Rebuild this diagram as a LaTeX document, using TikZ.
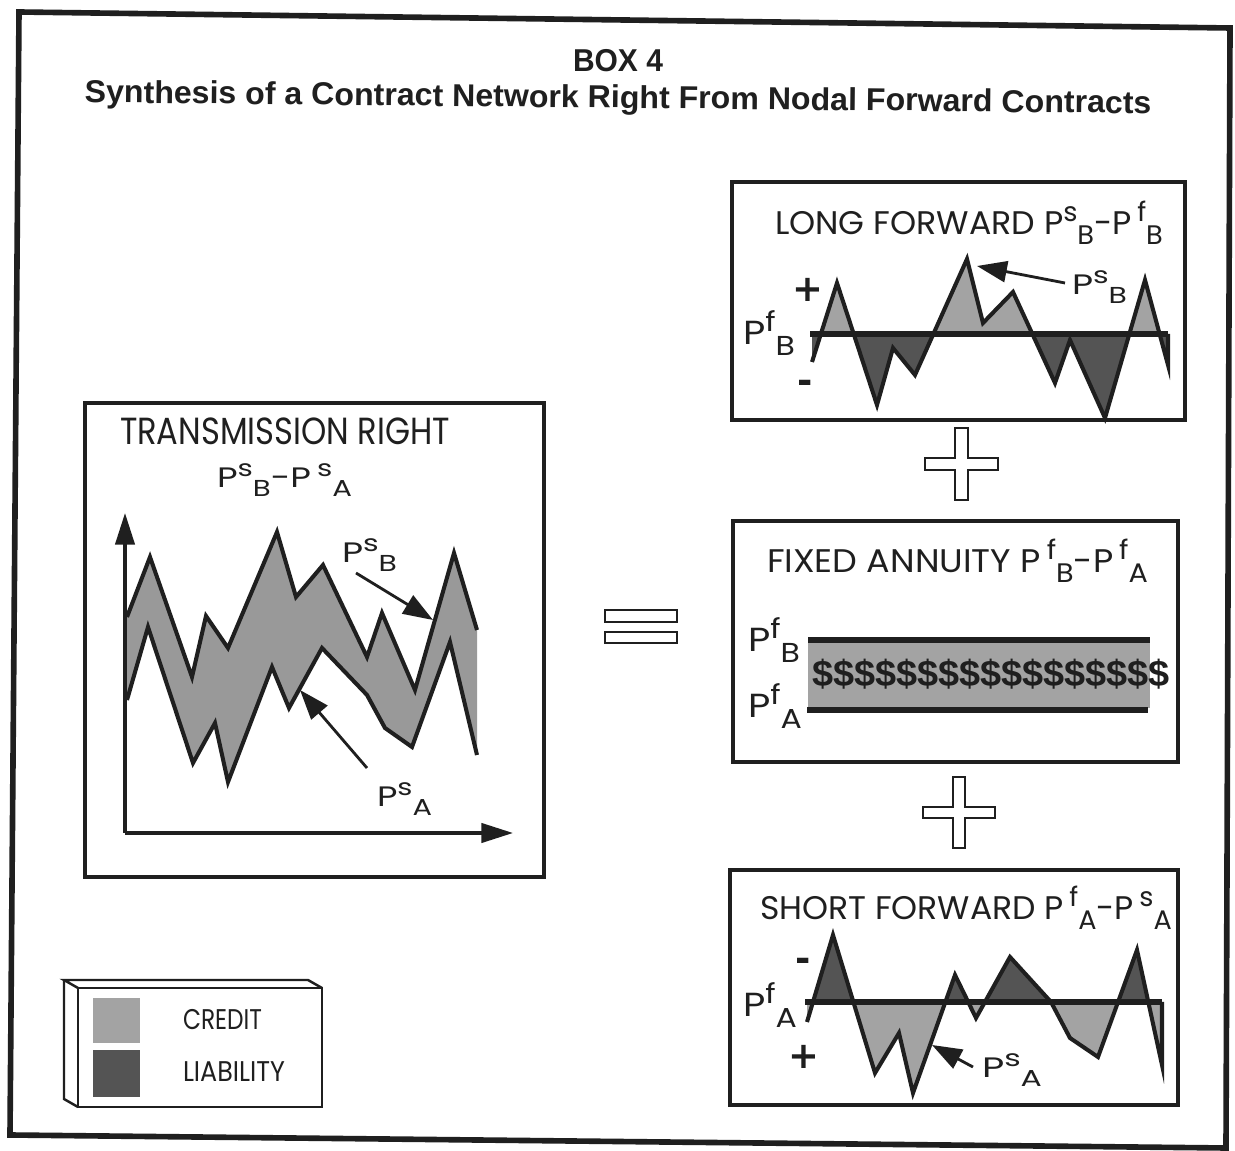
\documentclass[tikz,border=0pt]{standalone}
\usepackage{fontspec}
\usepackage{graphicx}
\usetikzlibrary{arrows.meta}
\setmainfont{Poppins}
\newfontfamily\headfont{Liberation Sans}
\newfontfamily\signfont{DejaVu Sans}

\definecolor{ink}{gray}{0.12}
\definecolor{creditfill}{gray}{0.64}
\definecolor{bandfill}{gray}{0.60}
\definecolor{liabfill}{gray}{0.33}

% set a line of text to a given width (horizontal scaling only)
\newlength\fitlen
\newcommand\fitw[2]{\settowidth\fitlen{#2}%
  \edef\fitscale{\fpeval{round((#1)/(\the\fitlen),4)}}%
  \scalebox{\fitscale}[1]{#2}}
% raised and lowered indices written one after the other
\newcommand\hi[1]{\raisebox{0.4em}{\scalebox{0.82}{#1}}}
\newcommand\lo[1]{\raisebox{-0.3em}{\scalebox{0.82}{#1}}}

\tikzset{
  frameline/.style={draw=ink, line width=3.2pt, line join=miter},
  panelbox/.style={draw=ink, line width=1.8pt},
  curveline/.style={draw=ink, line width=2.3pt, line join=miter, miter limit=12},
  zeroline/.style={draw=ink, line width=3pt},
  axisline/.style={draw=ink, line width=1.8pt, -{Triangle[length=18pt,width=11pt]}},
  pointer/.style={draw=ink, line width=1.6pt, -{Triangle[length=17pt,width=12pt]}},
  outline/.style={draw=ink, line width=1.4pt, line join=miter},
  txt/.style={inner sep=0pt, outer sep=0pt, anchor=base west, text=ink},
  headtext/.style={txt, anchor=base, font=\headfont\bfseries\fontsize{18}{20}\selectfont},
  bigtitle/.style={txt, font=\fontsize{21.5}{24}\selectfont},
  paneltitle/.style={txt, font=\fontsize{18.6}{21}\selectfont},
  smalllabel/.style={txt, font=\fontsize{16}{18}\selectfont},
  flabel/.style={txt, font=\fontsize{19}{21}\selectfont},
  legtext/.style={txt, font=\fontsize{16.2}{18}\selectfont},
  signtext/.style={inner sep=0pt, outer sep=0pt, text=ink, font=\signfont\bfseries\fontsize{21}{21}\selectfont},
  cashtext/.style={txt, font=\headfont\bfseries\fontsize{21}{22}\selectfont},
}

\begin{document}
\begin{tikzpicture}[x=0.02cm, y=-0.02cm]
\useasboundingbox (0,0) rectangle (1235,1151);
\fill[white] (0,0) rectangle (1235,1151);

% outer frame
\draw[frameline] (19,12) -- (1230,28) -- (1226,1148) -- (10,1135) -- cycle;

% heading
\node[headtext] (boxno) at (618,72) {\fitw{1.8cm}{BOX 4}};
\node[headtext, rotate=-0.6] (heading) at (618,108)
  {\fitw{21.34cm}{Synthesis of a Contract Network Right From Nodal Forward Contracts}};

% ---------- transmission right ----------
\draw[panelbox] (85,403) rectangle (544,877);
\node[bigtitle] (trTitle) at (120,445) {\fitw{6.6cm}{TRANSMISSION RIGHT}};
\node[smalllabel] (trFormula) at (217,488) {\fitw{2.7cm}{P\hi{s}\lo{B}-P\,\hi{s}\lo{A}}};

\fill[bandfill] (127,617) -- (150,557) -- (192,677) -- (206,616) -- (228,648) -- (277,532)
  -- (296,597) -- (323,565) -- (367,657) -- (382,613) -- (415,690) -- (454,553) -- (477,630)
  -- (477,755) -- (450,642) -- (412,747) -- (385,728) -- (367,695) -- (322,648) -- (289,708)
  -- (272,667) -- (228,782) -- (215,723) -- (193,763) -- (148,627) -- (127,700) -- cycle;
\draw[curveline] (127,617) -- (150,557) -- (192,677) -- (206,616) -- (228,648) -- (277,532)
  -- (296,597) -- (323,565) -- (367,657) -- (382,613) -- (415,690) -- (454,553) -- (477,630);
\draw[curveline] (127,700) -- (148,627) -- (193,763) -- (215,723) -- (228,782) -- (272,667)
  -- (289,708) -- (322,648) -- (367,695) -- (385,728) -- (412,747) -- (450,642) -- (477,755);

\coordinate (origin) at (125,833);
\coordinate (ytip) at (125,513);
\coordinate (xtip) at (513,833);
\draw[axisline] (origin) -- (ytip);
\draw[axisline] (origin) -- (xtip);

\node[smalllabel] (trPsB) at (342,563) {\fitw{1.1cm}{P\hi{s}\lo{B}}};
\coordinate (trArrB0) at (356,573);
\coordinate (trArrB1) at (433,620);
\draw[pointer] (trArrB0) -- (trArrB1);
\node[smalllabel] (trPsA) at (377,807) {\fitw{1.1cm}{P\hi{s}\lo{A}}};
\coordinate (trArrA0) at (367,768);
\coordinate (trArrA1) at (300,690);
\draw[pointer] (trArrA0) -- (trArrA1);

% equals sign
\draw[outline] (605,610) rectangle (677,622);
\draw[outline] (605,632) rectangle (677,643);

% ---------- long forward ----------
\draw[panelbox] (732,182) rectangle (1185,420);
\node[paneltitle] (lfTitle) at (775,235) {\fitw{7.76cm}{LONG FORWARD P\hi{s}\lo{B}-P\,\hi{f}\lo{B}}};
\def\lfcurve{(812,362) -- (837,283) -- (877,405) -- (893,348) -- (915,375) -- (967,259)
  -- (983,323) -- (1013,292) -- (1055,383) -- (1070,340) -- (1105,418) -- (1145,280) -- (1168,365)}
\begin{scope}
  \clip (732,182) rectangle (1185,334);
  \fill[creditfill] \lfcurve -- (1168,334) -- (812,334) -- cycle;
\end{scope}
\begin{scope}
  \clip (732,334) rectangle (1185,420);
  \fill[liabfill] \lfcurve -- (1168,334) -- (812,334) -- cycle;
\end{scope}
\draw[curveline] \lfcurve -- (1168,334);
\draw[zeroline] (810,334) -- (1168,334);
\node[flabel] (lfPf) at (743,345) {\fitw{1.04cm}{P\hi{f}\lo{B}}};
\node[signtext] (lfPlus) at (808,290) {+};
\node[signtext] (lfMinus) at (805,387) {-};
\node[smalllabel] (lfPs) at (1072,295) {\fitw{1.1cm}{P\hi{s}\lo{B}}};
\coordinate (lfArr0) at (1065,283);
\coordinate (lfArr1) at (977,266);
\draw[pointer] (lfArr0) -- (lfArr1);

% plus sign
\draw[outline] (955,428) -- (968,428) -- (968,458) -- (998,458) -- (998,470) -- (968,470)
  -- (968,500) -- (955,500) -- (955,470) -- (925,470) -- (925,458) -- (955,458) -- cycle;

% ---------- fixed annuity ----------
\draw[panelbox] (733,521) rectangle (1178,762);
\node[paneltitle] (faTitle) at (767,573) {\fitw{7.62cm}{FIXED ANNUITY P\,\hi{f}\lo{B}-P\,\hi{f}\lo{A}}};
\fill[creditfill] (808,643) rectangle (1150,708);
\draw[zeroline] (808,640) -- (1150,640);
\draw[zeroline] (807,710) -- (1148,710);
\node[cashtext] (faCash) at (812,687) {\fitw{7.16cm}{\$\$\$\$\$\$\$\$\$\$\$\$\$\$\$\$\$}};
\node[flabel] (faPfB) at (748,652) {\fitw{1.04cm}{P\hi{f}\lo{B}}};
\node[flabel] (faPfA) at (748,718) {\fitw{1.08cm}{P\hi{f}\lo{A}}};

% plus sign
\draw[outline] (953,777) -- (965,777) -- (965,807) -- (995,807) -- (995,818) -- (965,818)
  -- (965,848) -- (953,848) -- (953,818) -- (923,818) -- (923,807) -- (953,807) -- cycle;

% ---------- short forward ----------
\draw[panelbox] (730,870) rectangle (1178,1105);
\node[paneltitle] (sfTitle) at (760,920) {\fitw{8.24cm}{SHORT FORWARD P\,\hi{f}\lo{A}-P\,\hi{s}\lo{A}}};
\def\sfcurve{(807,1022) -- (833,935) -- (875,1073) -- (899,1033) -- (913,1093) -- (955,975)
  -- (976,1018) -- (1010,957) -- (1051,1002) -- (1070,1038) -- (1098,1057) -- (1137,950) -- (1162,1065)}
\begin{scope}
  \clip (730,870) rectangle (1178,1002);
  \fill[liabfill] \sfcurve -- (1162,1002) -- (807,1002) -- cycle;
\end{scope}
\begin{scope}
  \clip (730,1002) rectangle (1178,1105);
  \fill[creditfill] \sfcurve -- (1162,1002) -- (807,1002) -- cycle;
\end{scope}
\draw[curveline] \sfcurve -- (1162,1002);
\draw[zeroline] (805,1002) -- (1162,1002);
\node[flabel] (sfPf) at (743,1017) {\fitw{1.08cm}{P\hi{f}\lo{A}}};
\node[signtext] (sfMinus) at (803,965) {-};
\node[signtext] (sfPlus) at (804,1057) {+};
\node[smalllabel] (sfPs) at (982,1078) {\fitw{1.2cm}{P\hi{s}\lo{A}}};
\coordinate (sfArr0) at (973,1067);
\coordinate (sfArr1) at (932,1045);
\draw[pointer] (sfArr0) -- (sfArr1);

% ---------- legend ----------
\draw[outline] (78,988) rectangle (322,1107);
\draw[outline] (78,988) -- (64,980) -- (308,980) -- (322,988);
\draw[outline] (64,980) -- (64,1099) -- (78,1107);
\fill[creditfill] (93,998) rectangle (140,1043);
\fill[liabfill] (93,1050) rectangle (140,1097);
\node[legtext] (legCredit) at (183,1030) {\fitw{1.58cm}{CREDIT}};
\node[legtext] (legLiab) at (183,1082) {\fitw{2.04cm}{LIABILITY}};
\end{tikzpicture}
\end{document}
